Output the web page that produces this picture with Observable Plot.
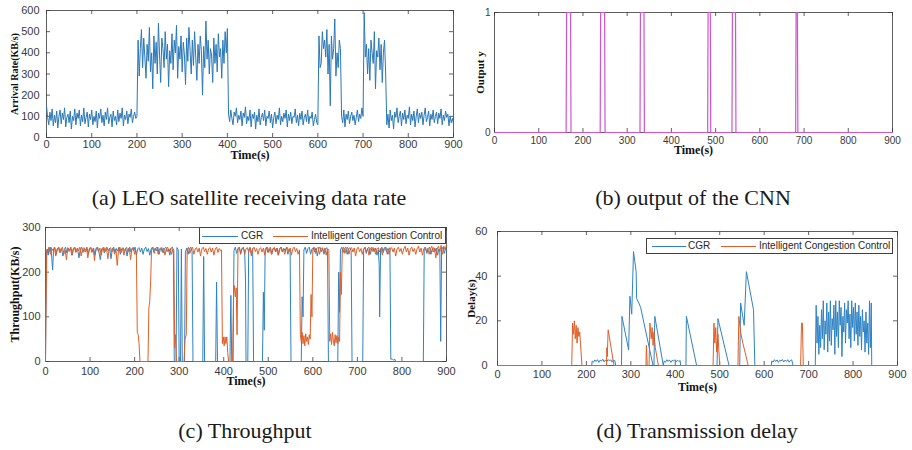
<!DOCTYPE html>
<html><head><meta charset="utf-8">
<script src="https://cdn.jsdelivr.net/npm/d3@7"></script>
<script src="https://cdn.jsdelivr.net/npm/@observablehq/plot@0.6"></script>
<style>
html,body{margin:0;padding:0;background:#fff;}
#root{position:relative;width:912px;height:450px;overflow:hidden;background:#fff;}
.panel{position:absolute;}
.cap{position:absolute;font-family:"Liberation Serif","Times New Roman",serif;font-size:22px;color:#1a1a1a;white-space:nowrap;transform:translateX(-50%);line-height:1;}
.legend{position:absolute;border:1px solid #404040;background:#fff;font-family:"Liberation Sans",Arial,sans-serif;font-size:10px;color:#262626;box-sizing:border-box;}
.legend .ln{position:absolute;top:50%;height:0;border-top:1.3px solid;}
.legend .tx{position:absolute;top:50%;transform:translateY(-52%);line-height:1;white-space:nowrap;}
</style></head>
<body><div id="root"></div>
<script>
// ---------- data ----------
const xTicks = [0,100,200,300,400,500,600,700,800,900];
const aYTicks = [0,100,200,300,400,500,600];
const bYTicks = [0,1];
const cYTicks = [0,100,200,300];
const dYTicks = [0,20,40,60];

// (a) arrival rate, one value every 2.5 s from 0 to 900 s
const arrivalTime = d3.range(0, 900.1, 2.5);
const arrivalRate = [
150,95,60,120,80,135,55,105,70,125,
45,100,130,65,115,85,140,50,95,110,
70,125,40,100,80,135,60,115,90,130,
55,105,75,140,65,95,120,50,110,85,
130,60,100,75,125,45,115,90,135,70,
105,55,120,85,140,65,95,110,50,125,
80,100,60,130,75,115,90,140,55,105,
85,125,65,110,95,135,70,100,120,90,
100,
460,290,420,510,330,470,380,280,440,360,
520,310,400,230,480,350,450,300,540,390,
260,470,420,330,500,370,440,240,410,350,
490,320,460,400,530,280,430,370,480,310,
450,390,250,470,360,520,410,300,460,340,
500,380,270,440,350,480,410,200,430,330,
550,370,460,300,420,390,260,470,350,440,
310,490,380,420,280,460,350,500,400,515,
110,75,130,90,60,120,100,140,70,105,
85,125,55,115,95,145,65,100,80,130,
50,110,90,120,40,105,75,135,60,95,
115,80,130,55,100,90,125,70,110,45,
95,120,65,105,85,140,60,100,75,115,
90,130,50,110,80,120,65,100,95,135,
70,105,55,115,85,125,60,95,110,75,
130,65,100,90,120,55,85,110,70,60,
480,330,350,500,420,460,380,510,300,440,
150,480,370,420,560,290,400,330,460,420,
100,70,130,50,110,85,125,65,100,120,
80,105,60,95,130,75,110,90,140,100,
590,380,440,300,420,270,460,400,350,500,
230,410,380,470,320,440,260,400,460,300,
60,110,45,130,80,105,40,120,95,140,
70,100,125,55,115,85,130,65,105,90,
145,60,110,80,125,50,100,135,70,115,
90,120,60,105,140,75,95,125,55,110,
85,130,70,100,120,65,115,90,135,60,
105,80,125,95,110,55,100,70,90,65
];

// (b) CNN output y
const outTime = [0,162,163,172,173,239,240,249,250,329,330,338,339,482,483,488,489,537,538,545,546,681,682,685,686,900];
const outY    = [0,0,1,1,0,0,1,1,0,0,1,1,0,0,1,1,0,0,1,1,0,0,1,1,0,0];

// (c) throughput [time, KB/s]
const cgrThroughput = [[0,0],[2,240],[4,252],[6,238],[8,255],[10,246],[12,256],[14,232],[16,205],[18,248],[21,255],[24,240],[27,252],[30,256],[33,244],[36,253],[39,236],[42,250],[45,256],[48,243],[51,254],[54,248],[57,256],[60,238],[63,252],[66,255],[69,245],[72,254],[75,232],[78,250],[81,256],[84,244],[87,253],[90,248],[93,256],[96,240],[99,252],[102,255],[105,246],[108,254],[111,238],[114,252],[117,256],[120,245],[123,228],[126,252],[129,255],[132,243],[135,253],[138,256],[141,247],[144,254],[147,230],[150,252],[153,256],[156,244],[159,253],[162,248],[165,256],[168,240],[171,252],[174,255],[177,246],[180,253],[183,236],[186,252],[189,256],[192,245],[195,254],[198,248],[201,256],[204,238],[207,252],[210,255],[213,245],[216,254],[219,240],[222,252],[225,256],[228,246],[231,253],[234,238],[237,252],[240,256],[243,245],[246,254],[249,248],[252,256],[255,240],[258,252],[261,255],[264,243],[267,253],[270,256],[273,246],[276,252],[279,238],[282,254],[285,256],[287,248],
[289,0],[293,0],[295,255],[298,250],[300,0],[303,0],[305,252],[307,0],[312,0],[314,245],[317,254],[320,240],[323,252],[326,256],[329,246],[331,0],
[353,0],[355,235],[357,0],[382,0],[384,178],[386,0],[414,0],[416,148],[418,0],[421,0],[423,248],[426,256],[429,242],[432,253],[435,256],[438,240],[441,252],[444,255],[447,245],[449,178],[450,0],[454,0],[456,250],[459,256],[462,242],[465,253],[467,0],[487,0],[489,155],[491,70],[493,250],[496,256],[499,244],[502,253],[505,256],[508,240],[511,252],[514,255],[517,246],[520,254],[523,238],[526,252],[529,256],[532,245],[535,253],[538,248],[541,256],[544,240],[547,252],[549,250],[551,0],[574,0],[576,145],[578,100],[580,250],[583,256],[586,242],[589,253],[592,256],[595,240],[598,252],[601,255],[604,245],[607,254],[610,236],[613,252],[616,256],[619,246],[622,253],[625,240],[628,252],[631,255],[633,248],[635,0],[656,0],[658,200],[660,110],[662,250],[665,256],[668,244],[671,253],[674,256],[677,240],[680,252],[683,255],[686,248],[688,0],[712,0],[714,250],[717,256],[720,242],[723,253],[726,256],[729,240],[732,252],[735,255],[738,246],[741,254],[744,238],[747,250],[749,215],[750,100],[752,250],[755,256],[758,244],[761,253],[764,256],[767,240],[770,252],[773,255],[775,5],[778,6],[781,3],[784,5],[786,0],[848,0],[850,250],[853,256],[856,242],[859,253],[862,256],[865,240],[868,252],[871,255],[874,246],[877,254],[880,238],[883,252],[885,250],[887,45],[889,250],[892,256],[895,242],[898,253],[900,248]];

const iccThroughput = [[0,0],[1,100],[3,250],[5,245],[8,256],[11,240],[14,253],[17,248],[20,256],[23,236],[26,252],[29,255],[32,244],[35,253],[38,256],[41,240],[44,250],[47,228],[50,255],[53,246],[56,254],[59,238],[62,252],[65,256],[68,244],[71,253],[74,248],[77,256],[80,236],[83,252],[86,255],[89,245],[92,254],[95,232],[98,252],[101,256],[104,244],[107,253],[110,226],[113,252],[116,256],[119,245],[122,254],[125,238],[128,252],[131,256],[134,246],[137,253],[140,230],[143,252],[146,255],[149,245],[152,254],[155,240],[158,252],[161,215],[164,250],[167,256],[170,244],[173,253],[176,238],[179,252],[182,256],[185,245],[188,254],[191,228],[194,252],[197,256],[200,240],[202,250],[204,240],[206,65],[208,60],[210,40],[212,0],[230,0],[232,120],[234,135],[236,180],[238,250],[241,256],[244,242],[247,253],[250,256],[253,240],[256,252],[259,255],[262,245],[265,254],[268,238],[271,252],[274,256],[277,246],[280,253],[283,240],[286,252],[288,250],[290,30],[292,60],[294,0],[311,0],[313,50],[316,60],[318,250],[321,256],[324,242],[327,253],[330,256],[333,240],[336,252],[339,255],[342,245],[345,254],[348,236],[351,252],[354,256],[357,246],[360,253],[363,240],[366,252],[369,255],[372,245],[375,254],[378,238],[381,252],[384,256],[387,244],[390,253],[393,248],[395,250],[397,40],[399,55],[401,35],[403,55],[405,40],[407,55],[409,20],[411,0],[420,0],[422,150],[424,170],[426,145],[428,165],[430,60],[432,250],[435,256],[438,242],[441,253],[444,256],[447,240],[450,252],[453,255],[456,245],[459,254],[462,236],[465,252],[468,256],[471,246],[474,253],[477,240],[480,252],[483,255],[486,245],[489,254],[492,238],[495,252],[498,256],[501,244],[504,253],[507,240],[510,252],[513,255],[516,245],[519,254],[522,238],[525,252],[528,256],[531,246],[534,253],[537,240],[540,252],[543,255],[546,245],[549,254],[552,238],[555,252],[558,256],[561,246],[564,253],[567,240],[570,250],[572,60],[574,45],[576,65],[578,40],[580,58],[582,35],[584,62],[586,45],[588,55],[590,38],[592,60],[594,50],[596,150],[598,100],[600,250],[603,256],[606,242],[609,253],[612,256],[615,240],[618,252],[621,255],[624,245],[627,254],[630,238],[633,252],[636,250],[638,45],[640,62],[642,38],[644,65],[646,48],[648,35],[650,60],[652,42],[654,58],[656,40],[658,55],[660,45],[662,200],[664,150],[666,250],[669,256],[672,242],[675,253],[678,256],[681,240],[684,252],[687,255],[690,245],[693,254],[696,236],[699,252],[702,256],[705,246],[708,253],[711,240],[714,252],[717,255],[720,245],[723,254],[726,238],[729,252],[732,256],[735,246],[738,253],[741,240],[744,252],[747,255],[750,245],[753,254],[756,238],[759,252],[762,256],[765,246],[768,253],[771,240],[774,252],[777,255],[780,245],[783,254],[786,236],[789,252],[792,256],[795,246],[798,253],[801,240],[804,252],[807,258],[810,245],[813,254],[816,238],[819,252],[822,256],[825,246],[828,253],[831,240],[834,252],[837,258],[840,245],[843,254],[846,238],[849,252],[852,256],[855,246],[858,253],[861,240],[864,252],[867,258],[870,245],[873,254],[876,232],[879,252],[882,258],[885,246],[888,260],[891,240],[894,258],[897,250],[900,262]];

// (d) delay [time, s]
const cgrDelay = [[0,0],[212,0],[213,2],[216,1.5],[219,2.5],[222,1.8],[225,2.6],[228,1.4],[231,2.4],[234,2],[237,2.8],[240,1.6],[243,2.5],[246,1.8],[249,2.7],[252,2],[255,2.6],[258,1.5],[261,2.4],[264,2.2],[266,0],[279,0],[280,22],[295,7],[298,31],[302,23],[306,51],[312,42],[313,30],[318,28],[322,26],[350,0],[352,0],[354,22],[373,0],[375,2],[378,1.5],[381,2.6],[384,1.8],[387,2.5],[390,1.4],[393,2.3],[396,2],[399,2.6],[402,1.6],[405,2.4],[408,1.8],[411,2.2],[412,0],[424,0],[425,22],[448,0],[494,0],[496,21],[521,0],[545,0],[547,28],[555,18],[560,42],[576,25],[579,0],[616,0],[617,2],[620,1.5],[623,2.6],[626,1.8],[629,2.5],[632,1.4],[635,2.3],[638,2],[641,2.7],[644,1.6],[647,2.4],[650,1.8],[653,2.6],[656,1.5],[659,2.3],[662,2.5],[665,0],[715,0],[717,27],[719,10],[721,22],[723,5],[725,18],[727,8],[729,25],[731,12],[733,29],[735,7],[737,20],[739,14],[741,28],[743,6],[745,24],[747,11],[749,29],[751,9],[753,21],[755,16],[757,27],[759,5],[761,29],[763,13],[765,24],[767,8],[769,29],[771,18],[773,26],[775,4],[777,22],[779,15],[781,28],[783,10],[785,25],[787,19],[789,29],[791,12],[793,23],[795,8],[797,29],[799,17],[801,26],[803,11],[805,28],[807,14],[809,24],[811,9],[813,27],[815,13],[817,22],[819,7],[821,25],[823,15],[825,20],[827,6],[829,24],[831,10],[833,19],[835,5],[837,29],[839,8],[841,28],[842,0],[900,0]];

const iccDelay = [[0,0],[167,0],[169,19],[171,14],[173,20],[175,12],[177,18],[179,10],[181,17],[183,13],[185,15],[190,0],[245,0],[246,8],[247,4],[249,16],[262,0],[334,0],[335,9],[337,0],[341,0],[343,19],[346,12],[348,17],[350,9],[352,15],[355,8],[362,0],[485,0],[487,19],[489,10],[491,17],[493,6],[496,14],[500,0],[541,0],[543,22],[547,15],[552,10],[557,6],[564,0],[682,0],[684,19],[686,19],[688,0],[900,0]];

const seriesNames = ["CGR", "Intelligent Congestion Control"];
const captions = ["(a) LEO satellite receiving data rate", "(b) output of the CNN", "(c) Throughput", "(d) Transmission delay"];

// ---------- drawing ----------
const BLUE = "#2f82c4", ORANGE = "#df5f28", MAG = "#d054d0", LINEA = "#2a78b8";
const ink = "#3a3a3a";
const serif = "Liberation Serif, Times New Roman, serif";
const root = document.getElementById("root");

function panel(o) {
  const ph = o.height - o.mt - o.mb, pw = o.width - o.ml - o.mr;
  const svg = Plot.plot({
    width: o.width, height: o.height,
    marginTop: o.mt, marginRight: o.mr, marginBottom: o.mb, marginLeft: o.ml,
    x: {domain: [0, 900]}, y: {domain: o.yDomain},
    style: {fontFamily: "Liberation Sans, Arial, sans-serif", fontSize: o.tickFont + "px", color: ink, background: "transparent", overflow: "visible"},
    marks: [
      Plot.frame({stroke: ink, strokeWidth: 0.8}),
      Plot.tickX(xTicks, {x: d => d, stroke: ink, strokeWidth: 0.8, insetTop: ph - 4}),
      Plot.tickX(xTicks, {x: d => d, stroke: ink, strokeWidth: 0.8, insetBottom: ph - 4}),
      Plot.tickY(o.yTicks, {y: d => d, stroke: ink, strokeWidth: 0.8, insetRight: pw - 4}),
      Plot.tickY(o.yTicks, {y: d => d, stroke: ink, strokeWidth: 0.8, insetLeft: pw - 4}),
      Plot.axisX({ticks: xTicks, tickSize: 0, tickPadding: o.xPad, label: null, fill: ink, tickFormat: d => String(d)}),
      Plot.axisY({ticks: o.yTicks, tickSize: 0, tickPadding: o.yPad, label: null, fill: ink, tickFormat: d => String(d)}),
      Plot.text(["Time(s)"], {frameAnchor: "bottom", dy: o.xlabDy, text: d => d, textAnchor: "middle", fontFamily: serif, fontWeight: "bold", fontSize: o.xlabSize, fill: "#111"}),
      Plot.text([o.ylabel], {frameAnchor: "left", dx: o.ylabDx, rotate: -90, text: d => d, textAnchor: "middle", fontFamily: serif, fontWeight: "bold", fontSize: o.ylabSize, fill: "#111"}),
      ...o.marks
    ]
  });
  const div = document.createElement("div");
  div.className = "panel";
  div.style.left = o.left + "px"; div.style.top = o.top + "px";
  div.style.width = o.width + "px"; div.style.height = o.height + "px";
  div.appendChild(svg);
  root.appendChild(div);
}

// (a)
panel({left: 0, top: 0, width: 460, height: 165, mt: 10, mr: 7, mb: 28, ml: 46,
  yDomain: [0, 600], yTicks: aYTicks, tickFont: 11, xPad: 3, yPad: 7,
  ylabel: "Arrival Rate(KB/s)", ylabDx: -32, ylabSize: 10, xlabDy: 21, xlabSize: 12,
  marks: [Plot.line(arrivalRate, {x: (d, i) => arrivalTime[i], y: d => d, stroke: LINEA, strokeWidth: 1})]
});

// (b)
panel({left: 455, top: 0, width: 457, height: 165, mt: 12, mr: 20, mb: 33, ml: 39,
  yDomain: [0, 1], yTicks: bYTicks, tickFont: 10, xPad: 4, yPad: 4,
  ylabel: "Output y", ylabDx: -14, ylabSize: 11, xlabDy: 21, xlabSize: 12,
  marks: [Plot.line(outY, {x: (d, i) => outTime[i], y: d => d, stroke: MAG, strokeWidth: 1.2})]
});

// (c)
panel({left: 0, top: 215, width: 460, height: 180, mt: 12, mr: 14, mb: 34, ml: 45,
  yDomain: [0, 300], yTicks: cYTicks, tickFont: 11, xPad: 5.5, yPad: 5,
  ylabel: "Throughput(KB/s)", ylabDx: -30, ylabSize: 12, xlabDy: 23, xlabSize: 12,
  marks: [
    Plot.line(cgrThroughput, {x: d => d[0], y: d => d[1], stroke: BLUE, strokeWidth: 1}),
    Plot.line(iccThroughput, {x: d => d[0], y: d => d[1], stroke: ORANGE, strokeWidth: 1})
  ]
});

// (d)
panel({left: 455, top: 215, width: 457, height: 180, mt: 16, mr: 15, mb: 30, ml: 42,
  yDomain: [0, 60], yTicks: dYTicks, tickFont: 11, xPad: 4.5, yPad: 10,
  ylabel: "Delay(s)", ylabDx: -26, ylabSize: 11, xlabDy: 25, xlabSize: 12,
  marks: [
    Plot.line(cgrDelay, {x: d => d[0], y: d => d[1], stroke: BLUE, strokeWidth: 1}),
    Plot.line(iccDelay, {x: d => d[0], y: d => d[1], stroke: ORANGE, strokeWidth: 1})
  ]
});

// legends
function legend(left, top, width, height, pos) {
  const box = document.createElement("div");
  box.className = "legend";
  Object.assign(box.style, {left: left + "px", top: top + "px", width: width + "px", height: height + "px"});
  const cols = [BLUE, ORANGE];
  seriesNames.forEach((name, i) => {
    const ln = document.createElement("div");
    ln.className = "ln";
    Object.assign(ln.style, {left: pos[i][0] + "px", width: pos[i][1] + "px", borderTopColor: cols[i]});
    const tx = document.createElement("div");
    tx.className = "tx";
    tx.style.left = pos[i][2] + "px";
    tx.textContent = name;
    box.appendChild(ln); box.appendChild(tx);
  });
  root.appendChild(box);
}
legend(199, 227, 247, 17, [[2, 36, 41], [73, 35, 111]]);
legend(646, 238, 247, 16, [[5, 34, 41], [74, 35, 112]]);

// captions
const capPos = [[249, 187], [693, 187], [245, 420], [697, 420]];
captions.forEach((c, i) => {
  const d = document.createElement("div");
  d.className = "cap";
  d.style.left = capPos[i][0] + "px"; d.style.top = capPos[i][1] + "px";
  d.textContent = c;
  root.appendChild(d);
});
</script>
</body></html>
